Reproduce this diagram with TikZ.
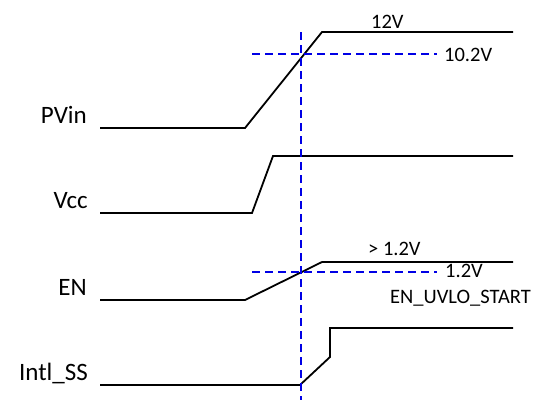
\documentclass[tikz,border=0pt]{standalone}
\usepackage{fontspec}
\setmainfont{Carlito}
\begin{document}
\begin{tikzpicture}[x=1pt,y=-1pt,
  sigline/.style={line width=1.8pt,black,line join=miter},
  guideline/.style={line width=1.8pt,blue!90!black,dash pattern=on 8pt off 5pt},
  signame/.style={inner sep=0pt,anchor=base east,font=\fontsize{25}{30}\selectfont},
  valtxt/.style={inner sep=0pt,anchor=base west,font=\fontsize{20.5}{24}\selectfont}]
\useasboundingbox (0,0) rectangle (544,400);
% signal labels
\node[signame] (lpvin) at (87,123) {PVin};
\node[signame] (lvcc) at (88,208) {Vcc};
\node[signame] (len) at (87,295) {EN};
\node[signame] (lss) at (88,380) {Intl\_SS};
% waveforms
\draw[sigline] (100,128) -- (245,128) -- (322,32) -- (513,32);
\draw[sigline] (100,213) -- (252,213) -- (273,156) -- (513,156);
\draw[sigline] (100,300) -- (245,300) -- (322,262) -- (513,262);
\draw[sigline] (100,385) -- (300,385) -- (330,357) -- (330,328) -- (513,328);
% guides
\coordinate (vt) at (301,32);
\coordinate (vb) at (301,400);
\draw[guideline] (vt) -- (vb);
\coordinate (h1a) at (252,54);
\coordinate (h1b) at (437,54);
\draw[guideline] (h1a) -- (h1b);
\coordinate (h2a) at (252,272);
\coordinate (h2b) at (437,272);
\draw[guideline] (h2a) -- (h2b);
% values
\node[valtxt] (v12) at (371,28) {12V};
\node[valtxt] (v102) at (444,61) {10.2V};
\node[valtxt] (vgt) at (368,255) {> 1.2V};
\node[valtxt] (v12b) at (445,277) {1.2V};
\node[valtxt] (vuvlo) at (390,303) {EN\_UVLO\_START};
\end{tikzpicture}
\end{document}
